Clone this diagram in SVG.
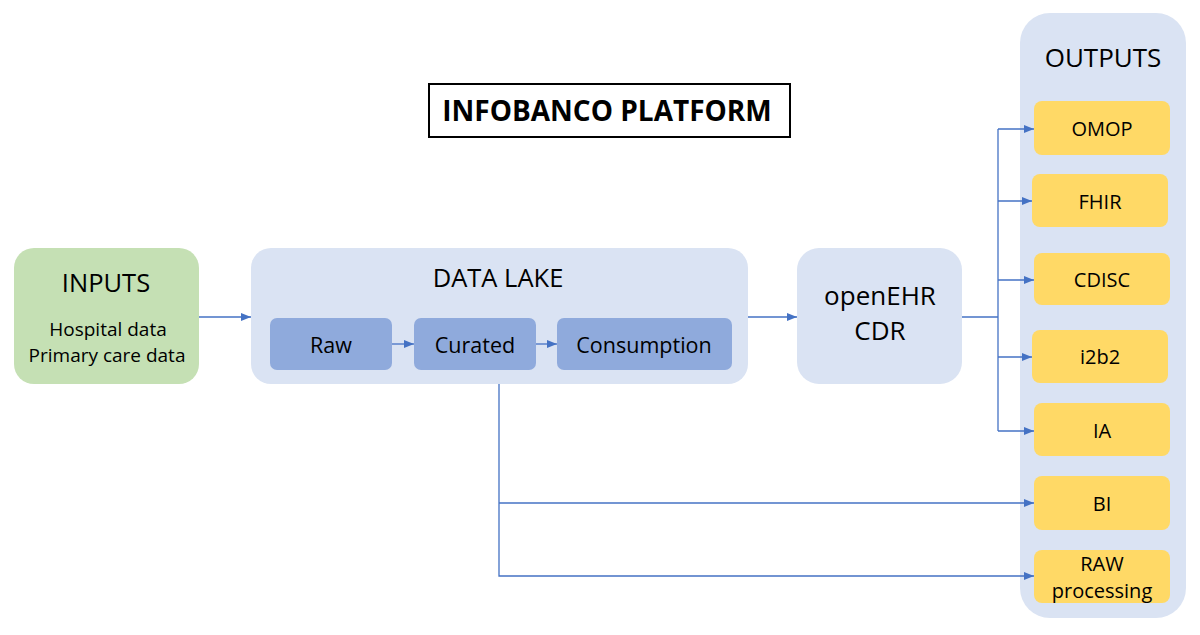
<svg xmlns="http://www.w3.org/2000/svg" width="1200" height="635" viewBox="0 0 1200 635">
<defs>
<marker id="arr" markerWidth="10" markerHeight="8" refX="10" refY="4" orient="auto" markerUnits="userSpaceOnUse">
<path d="M0,0 L10,4 L0,8 Z" fill="#4472c4"/>
</marker>
<style>
text{font-family:"Open Sans","Liberation Sans",sans-serif;fill:#000;text-anchor:middle;dominant-baseline:central}
.big{font-size:25.5px}
.mid{font-size:21.5px}
.sm{font-size:19px}
.os{font-size:20px}
.lk{fill:#dae3f3}
.sub{fill:#8faadc}
.out{fill:#ffd966}
.c{fill:none;stroke:#4472c4;stroke-width:1.3}
</style>
</defs>
<rect width="1200" height="635" fill="#fff"/>
<g id="title">
<rect x="429" y="84" width="361" height="53" fill="#fff" stroke="#000" stroke-width="2"/>
<text x="607" y="110" style="font-size:28px;font-weight:bold">INFOBANCO PLATFORM</text>
</g>
<g id="inputs">
<rect x="14" y="248" width="185" height="136" rx="20" fill="#c5e0b4"/>
<text class="big" x="106" y="282">INPUTS</text>
<text class="sm" x="108" y="329">Hospital data</text>
<text class="sm" x="107" y="355">Primary care data</text>
</g>
<g id="datalake">
<rect class="lk" x="251" y="248" width="497" height="136" rx="20"/>
<text class="big" x="498" y="277">DATA LAKE</text>
</g>
<g id="raw">
<rect class="sub" x="270" y="318" width="122" height="52" rx="7"/>
<text class="mid" x="331" y="344">Raw</text>
</g>
<g id="curated">
<rect class="sub" x="414" y="318" width="122" height="52" rx="7"/>
<text class="mid" x="475" y="344">Curated</text>
</g>
<g id="consumption">
<rect class="sub" x="557" y="318" width="175" height="52" rx="7"/>
<text class="mid" x="644" y="344">Consumption</text>
</g>
<g id="openehr">
<rect class="lk" x="797" y="248" width="165" height="136" rx="22"/>
<text x="880" y="295" style="font-size:26px">openEHR</text>
<text x="880" y="330" style="font-size:26px">CDR</text>
</g>
<g id="outputs">
<rect class="lk" x="1020" y="13" width="166" height="605" rx="30"/>
<text x="1103" y="57" style="font-size:26px">OUTPUTS</text>
</g>
<g id="omop"><rect class="out" x="1034" y="101" width="136" height="54" rx="8"/><text class="os" x="1102" y="128">OMOP</text></g>
<g id="fhir"><rect class="out" x="1032" y="174" width="136" height="53" rx="8"/><text class="os" x="1100" y="201">FHIR</text></g>
<g id="cdisc"><rect class="out" x="1034" y="253" width="136" height="52" rx="8"/><text class="os" x="1102" y="279">CDISC</text></g>
<g id="i2b2"><rect class="out" x="1032" y="330" width="136" height="53" rx="8"/><text class="os" x="1100" y="356">i2b2</text></g>
<g id="ia"><rect class="out" x="1034" y="403" width="136" height="53" rx="8"/><text class="os" x="1102" y="430">IA</text></g>
<g id="bi"><rect class="out" x="1034" y="476" width="136" height="54" rx="8"/><text class="os" x="1102" y="503">BI</text></g>
<g id="rawproc"><rect class="out" x="1034" y="550" width="136" height="53" rx="8"/><text class="os" x="1102" y="563">RAW</text><text class="os" x="1102" y="590">processing</text></g>
<g id="connectors">
<path class="c" d="M199,317 H251" marker-end="url(#arr)"/>
<path class="c" d="M392,344 H414" marker-end="url(#arr)"/>
<path class="c" d="M536,344 H557" marker-end="url(#arr)"/>
<path class="c" d="M748,317 H797" marker-end="url(#arr)"/>
<path class="c" d="M962,317 H998"/>
<path class="c" d="M998,129 V431"/>
<path class="c" d="M998,129 H1034" marker-end="url(#arr)"/>
<path class="c" d="M998,201 H1032" marker-end="url(#arr)"/>
<path class="c" d="M998,280 H1034" marker-end="url(#arr)"/>
<path class="c" d="M998,357 H1032" marker-end="url(#arr)"/>
<path class="c" d="M998,431 H1034" marker-end="url(#arr)"/>
<path class="c" d="M499,384 V576 H1034" marker-end="url(#arr)"/>
<path class="c" d="M499,503 H1034" marker-end="url(#arr)"/>
</g>
</svg>
